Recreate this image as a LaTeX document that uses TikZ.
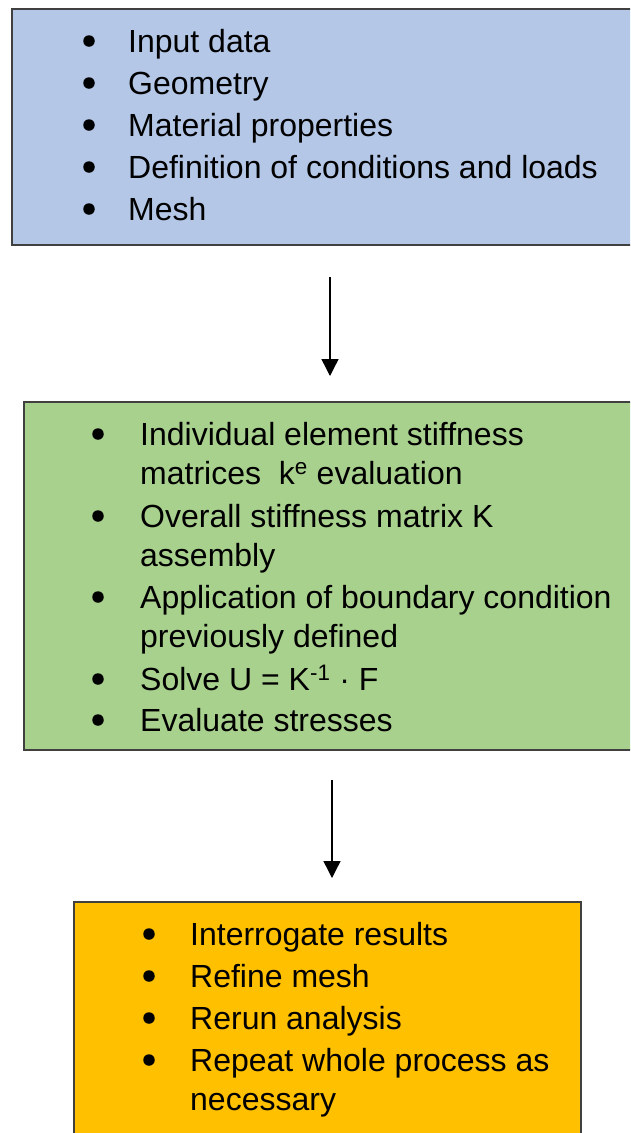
\documentclass[tikz,border=0pt]{standalone}
\usepackage{fontspec}
\setmainfont{Liberation Sans}
\definecolor{boxblue}{HTML}{B4C7E7}
\definecolor{boxgreen}{HTML}{A9D18E}
\definecolor{boxorange}{HTML}{FFC000}
\definecolor{boxline}{HTML}{404040}
\usetikzlibrary{arrows.meta}

\begin{document}
\begin{tikzpicture}[x=1pt,y=-1pt,
    stagebox/.style={draw=boxline,line width=1.3pt},
    itemtext/.style={anchor=base west,inner sep=0pt,font=\fontsize{32}{39}\selectfont},
    itemdot/.style={circle,fill=black,inner sep=0pt,minimum size=11.5pt},
    flow/.style={line width=1.4pt,-{Triangle[width=17pt,length=17pt]}}]
        \useasboundingbox (0,0) rectangle (630,1133);
        \clip (0,0) rectangle (630,1133);
        % pre-processing
        \draw[stagebox,fill=boxblue] (12,9) rectangle (650,245);
        \node[itemdot] (pd1) at (89,41) {};
        \node[itemtext] (pre1) at (128,52) {Input data};
        \node[itemdot] (pd2) at (89,83) {};
        \node[itemtext] (pre2) at (128,94) {Geometry};
        \node[itemdot] (pd3) at (89,125) {};
        \node[itemtext] (pre3) at (128,136) {Material properties};
        \node[itemdot] (pd4) at (89,167) {};
        \node[itemtext] (pre4) at (128,178) {Definition of conditions and loads};
        \node[itemdot] (pd5) at (89,209) {};
        \node[itemtext] (pre5) at (128,220) {Mesh};
        \coordinate (flowAtop) at (330,277);
        \coordinate (flowAend) at (330,376);
        \draw[flow] (flowAtop) -- (flowAend);
        % solution
        \draw[stagebox,fill=boxgreen] (24,402) rectangle (650,750);
        \node[itemdot] (sd1) at (98,434) {};
        \node[itemtext] (sol1a) at (140,445) {Individual element stiffness};
        \node[itemtext] (sol1b) at (140,484) {matrices\ \ k\textsuperscript{e} evaluation};
        \node[itemdot] (sd2) at (98,516) {};
        \node[itemtext] (sol2a) at (140,527) {Overall stiffness matrix K};
        \node[itemtext] (sol2b) at (140,566) {assembly};
        \node[itemdot] (sd3) at (98,597) {};
        \node[itemtext] (sol3a) at (140,608) {Application of boundary condition};
        \node[itemtext] (sol3b) at (140,647) {previously defined};
        \node[itemdot] (sd4) at (98,679) {};
        \node[itemtext] (sol4) at (140,690) {Solve U = K\textsuperscript{-1} · F};
        \node[itemdot] (sd5) at (98,720) {};
        \node[itemtext] (sol5) at (140,731) {Evaluate stresses};
        \coordinate (flowBtop) at (332,780);
        \coordinate (flowBend) at (332,878);
        \draw[flow] (flowBtop) -- (flowBend);
        % post-processing
        \draw[stagebox,fill=boxorange] (74,902) rectangle (581,1150);
        \node[itemdot] (od1) at (149,934) {};
        \node[itemtext] (post1) at (190,945) {Interrogate results};
        \node[itemdot] (od2) at (149,976) {};
        \node[itemtext] (post2) at (190,987) {Refine mesh};
        \node[itemdot] (od3) at (149,1018) {};
        \node[itemtext] (post3) at (190,1029) {Rerun analysis};
        \node[itemdot] (od4) at (149,1060) {};
        \node[itemtext] (post4a) at (190,1071) {Repeat whole process as};
        \node[itemtext] (post4b) at (190,1110) {necessary};
      \end{tikzpicture}
\end{document}
